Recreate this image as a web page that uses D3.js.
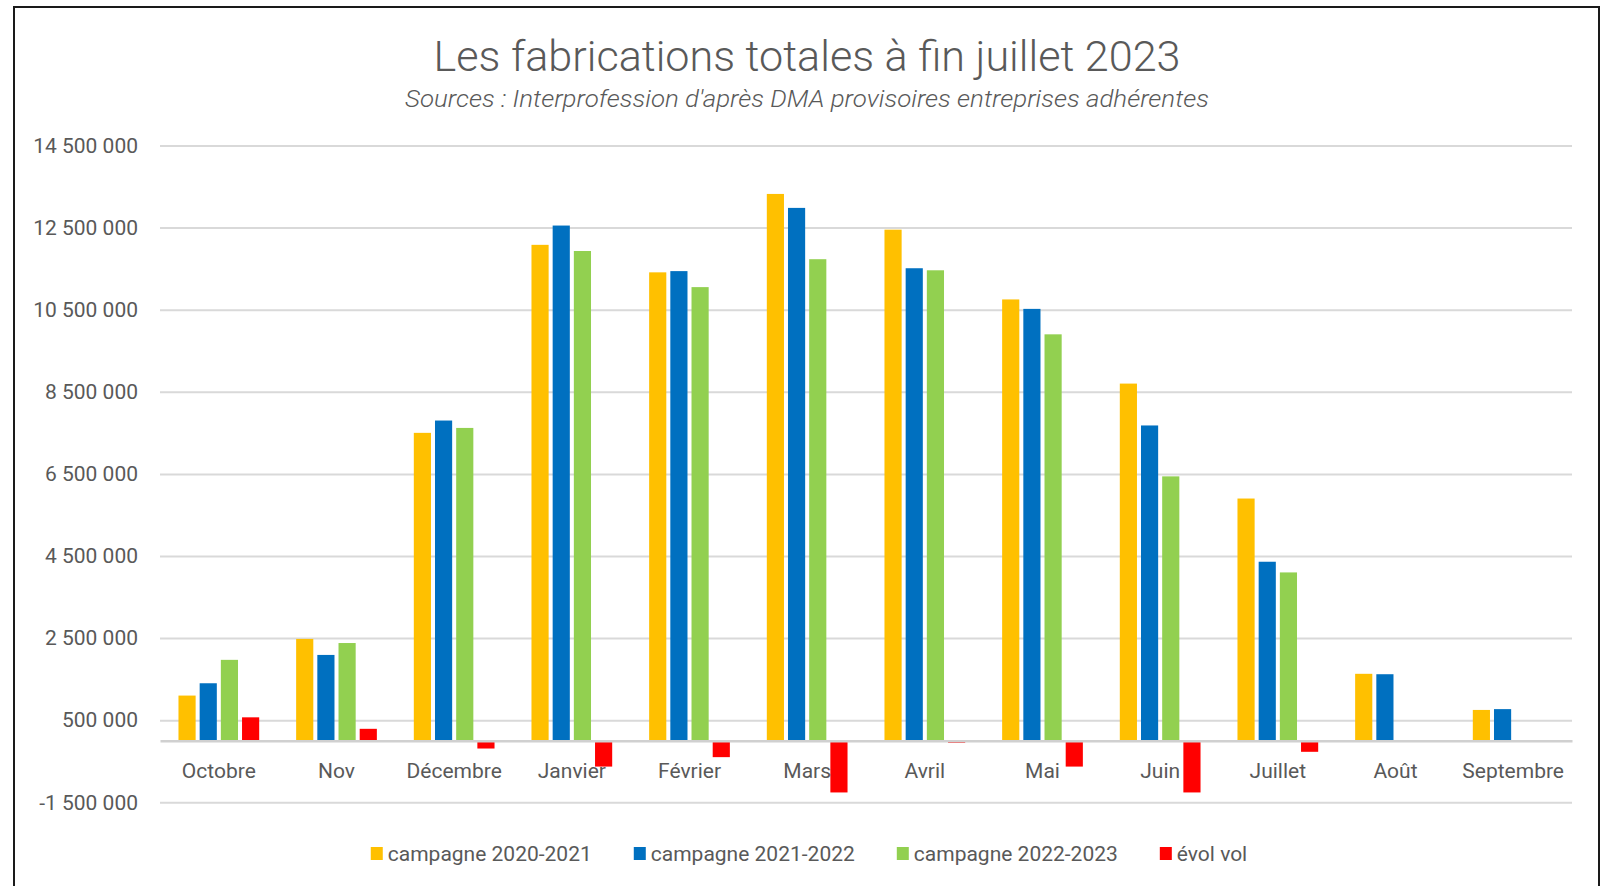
<!DOCTYPE html>
<html>
<head>
<meta charset="utf-8">
<script src="https://cdn.jsdelivr.net/npm/d3@7"></script>
<style>
  body { margin: 0; background: #fff; }
  svg { display: block; font-family: Roboto, "Open Sans", sans-serif; }
</style>
</head>
<body>
<div id="chart"></div>
<script>
(function(){
    var width = 1613;
    var height = 886;

    // data
    var months = ["Octobre", "Nov", "Décembre", "Janvier", "Février", "Mars", "Avril", "Mai", "Juin", "Juillet", "Août", "Septembre"];
    var seriesNames = ["campagne 2020-2021", "campagne 2021-2022", "campagne 2022-2023", "évol vol"];
    var seriesColors = ["#FFC000", "#0070C0", "#92D050", "#FF0000"];
    var camp2021 = [1100000, 2480000, 7500000, 12080000, 11410000, 13320000, 12450000, 10750000, 8700000, 5900000, 1630000, 750000];
    var camp2122 = [1400000, 2090000, 7800000, 12550000, 11440000, 12980000, 11510000, 10520000, 7680000, 4360000, 1620000, 770000];
    var camp2223 = [1970000, 2380000, 7620000, 11930000, 11050000, 11730000, 11460000, 9900000, 6440000, 4100000, null, null];
    var evolVol = [570000, 290000, -190000, -630000, -400000, -1260000, -50000, -630000, -1260000, -270000, null, null];
    var yTicks = [-1500000, 500000, 2500000, 4500000, 6500000, 8500000, 10500000, 12500000, 14500000];

    var title = "Les fabrications totales à fin juillet 2023";
    var subtitle = "Sources : Interprofession d'après DMA provisoires entreprises adhérentes";

    var allSeries = [camp2021, camp2122, camp2223, evolVol];

    var left = 160, right = 1572, top = 145.5, bottom = 802.3;
    var centerX = 809;
    var textColor = "#595959";

    var svg = d3.select("#chart")
        .append("svg")
        .attr("width", width)
        .attr("height", height);

    // frame
    svg.append("rect")
        .attr("x", 14).attr("y", 7)
        .attr("width", 1585).attr("height", 900)
        .attr("fill", "#fff")
        .attr("stroke", "#1a1a1a")
        .attr("stroke-width", 2);

    svg.append("text")
        .attr("x", 807).attr("y", 71)
        .attr("text-anchor", "middle")
        .attr("fill", textColor)
        .attr("font-size", "42px")
        .attr("font-weight", 300)
        .attr("textLength", 747)
        .attr("lengthAdjust", "spacingAndGlyphs")
        .text(title);

    svg.append("text")
        .attr("x", 807).attr("y", 107)
        .attr("text-anchor", "middle")
        .attr("fill", textColor)
        .attr("font-size", "23px")
        .attr("font-style", "italic")
        .attr("font-weight", 300)
        .attr("textLength", 804)
        .attr("lengthAdjust", "spacingAndGlyphs")
        .text(subtitle);

    var x0 = d3.scaleBand()
        .domain(months)
        .range([left, right])
        .paddingInner(0.314)
        .paddingOuter(0.157);

    var x1 = d3.scaleBand()
        .domain(d3.range(seriesNames.length))
        .range([0, x0.bandwidth()])
        .paddingInner(0.19);

    var y = d3.scaleLinear()
        .domain([-1500000, 14500000])
        .range([bottom, top]);

    var locale = d3.formatLocale({decimal: ",", thousands: " ", grouping: [3], currency: ["", " €"], minus: "-"});
    var fmt = locale.format(",");

    // grid + y labels
    var yAxis = d3.axisLeft(y)
        .tickValues(yTicks)
        .tickSize(-(right - left))
        .tickPadding(22)
        .tickFormat(fmt);

    var gy = svg.append("g")
        .attr("transform", "translate(" + left + ",0)")
        .call(yAxis);
    gy.select(".domain").remove();
    gy.selectAll(".tick line")
        .attr("stroke", "#d9d9d9")
        .attr("stroke-width", 2);
    gy.selectAll(".tick text")
        .attr("fill", textColor)
        .attr("font-size", "21px")
        .attr("font-family", "Roboto, sans-serif");

    // bars
    var groups = svg.selectAll(".month")
        .data(months)
        .enter().append("g")
        .attr("class", "month")
        .attr("transform", function(d){ return "translate(" + x0(d) + ",0)"; });

    groups.selectAll("rect")
        .data(function(d, i){
            return allSeries.map(function(s, k){ return {k: k, v: s[i]}; })
                .filter(function(e){ return e.v !== null; });
        })
        .enter().append("rect")
        .attr("x", function(d){ return x1(d.k); })
        .attr("width", x1.bandwidth())
        .attr("y", function(d){ return y(Math.max(0, d.v)); })
        .attr("height", function(d){ return Math.abs(y(d.v) - y(0)); })
        .attr("fill", function(d){ return seriesColors[d.k]; });

    // category axis at zero
    var xAxis = d3.axisBottom(x0).tickSize(0).tickPadding(22);
    var gx = svg.append("g")
        .attr("transform", "translate(0," + y(0) + ")")
        .call(xAxis);
    gx.select(".domain")
        .attr("stroke", "#d0d0d0")
        .attr("stroke-width", 2.5);
    gx.selectAll(".tick text")
        .attr("fill", textColor)
        .attr("font-size", "21px")
        .attr("font-family", "Roboto, sans-serif");

    // legend
    var legend = svg.append("g");
    var items = legend.selectAll(".item")
        .data(seriesNames)
        .enter().append("g")
        .attr("class", "item");
    items.append("rect")
        .attr("width", 12).attr("height", 13)
        .attr("y", 847)
        .attr("fill", function(d, i){ return seriesColors[i]; });
    items.append("text")
        .attr("x", 17).attr("y", 861)
        .attr("fill", textColor)
        .attr("font-size", "21px")
        .text(function(d){ return d; });

    var widths = [];
    items.each(function(){ widths.push(d3.select(this).select("text").node().getComputedTextLength() + 17); });
    var gap = 42;
    var total = d3.sum(widths) + gap * (widths.length - 1);
    var pos = centerX - total / 2;
    items.attr("transform", function(d, i){
        var t = "translate(" + pos + ",0)";
        pos += widths[i] + gap;
        return t;
    });
})();
</script>
</body>
</html>
